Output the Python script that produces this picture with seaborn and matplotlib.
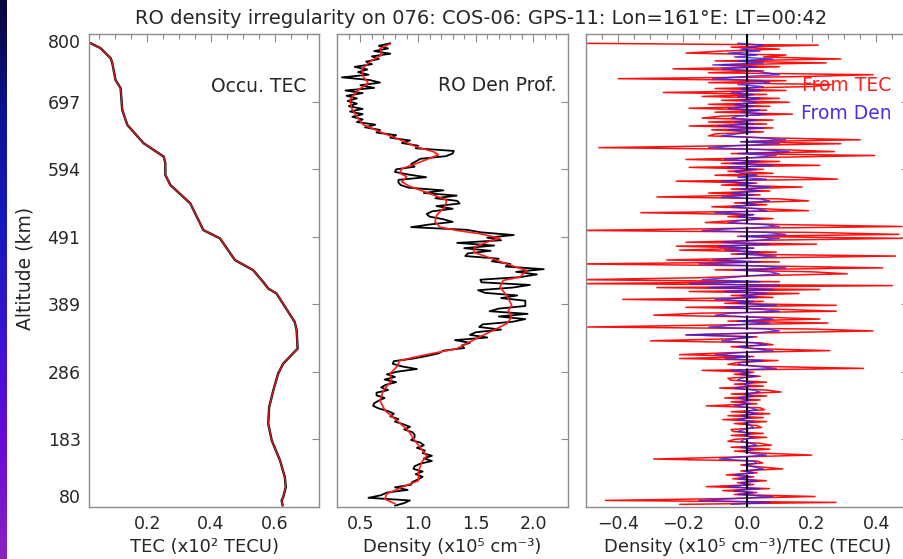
import numpy as np
import pandas as pd
import matplotlib
matplotlib.use("Agg")
import matplotlib.pyplot as plt
from matplotlib.colors import LinearSegmentedColormap
from matplotlib.ticker import MultipleLocator
import seaborn as sns

# ---------------- data ----------------
title_text = "RO density irregularity on 076: COS-06: GPS-11: Lon=161°E: LT=00:42"
alt_ticks = [80, 183, 286, 389, 491, 594, 697, 800]
alt_tick_labels = ["80", "183", "286", "389", "491", "594", "697", "800"]

# Panel 1: occultation TEC (x10^2 TECU) vs altitude (km)
tec_alt = [786, 778.5, 763, 755.6, 730, 717.5, 684.5, 661.6, 633.7, 613.3, 603.2,
           585.4, 570, 542.2, 501.5, 488.9, 455.8, 440.5, 422.7, 412.6, 405,
           361.7, 349, 321, 298.3, 283, 257.6, 232, 206.8, 181.4, 150.9, 125.5,
           110.2, 95, 90, 82.3]
tec_val = [0.023, 0.054, 0.086, 0.091, 0.101, 0.117, 0.122, 0.138, 0.189, 0.252, 0.257,
           0.257, 0.273, 0.335, 0.376, 0.428, 0.475, 0.532, 0.563, 0.579, 0.605,
           0.662, 0.668, 0.671, 0.626, 0.610, 0.595, 0.582, 0.579, 0.590, 0.616, 0.631,
           0.634, 0.626, 0.621, 0.624]

# Panel 2: smooth (red) density profile (x10^5 cm^-3)
den_smooth_alt = [785, 778, 768, 758, 746, 735, 725, 715, 700, 687, 674, 662, 649, 639,
                  628, 621, 616, 611, 603, 595, 588, 583, 575, 568, 557, 547, 537, 524,
                  514, 506, 501, 496, 489, 484, 476, 468, 461, 450, 440, 430, 425, 415,
                  402, 387, 379, 369, 359, 344, 334, 321, 311, 303, 293, 283, 273, 257,
                  242, 227, 212, 196, 181, 171, 158, 148, 133, 120, 110, 100, 92, 85]
den_smooth_val = [0.757, 0.670, 0.684, 0.583, 0.511, 0.525, 0.569, 0.482, 0.410, 0.424,
                  0.468, 0.525, 0.699, 0.843, 0.988, 1.132, 1.176, 1.103, 0.988, 0.858,
                  0.843, 0.901, 0.858, 0.930, 1.103, 1.248, 1.233, 1.161, 1.147, 1.190,
                  1.335, 1.537, 1.710, 1.609, 1.494, 1.479, 1.595, 1.768, 1.942, 1.884,
                  1.739, 1.710, 1.768, 1.812, 1.783, 1.812, 1.768, 1.595, 1.479, 1.335,
                  1.046, 0.843, 0.814, 0.757, 0.771, 0.699, 0.670, 0.713, 0.814, 0.916,
                  0.973, 1.017, 1.075, 1.031, 1.002, 1.002, 0.858, 0.728, 0.713, 0.800]

# Panel 2: raw (black) density profile, sampled every 4 km from 786 km down to 82 km
den_raw_top, den_raw_step = 786, 4
den_raw_val = [
    0.76, 0.66, 0.74, 0.62, 0.76, 0.60, 0.66, 0.55, 0.60, 0.45,
    0.56, 0.48, 0.57, 0.34, 0.58, 0.67, 0.50, 0.62, 0.37, 0.52,
    0.38, 0.47, 0.39, 0.47, 0.40, 0.52, 0.41, 0.52, 0.43, 0.52,
    0.47, 0.63, 0.54, 0.67, 0.64, 0.81, 0.76, 0.93, 0.86, 1.00,
    0.98, 1.31, 1.30, 1.24, 1.02, 0.98, 0.94, 0.97, 0.81, 0.80,
    0.92, 1.07, 0.83, 0.83, 0.85, 0.92, 1.22, 1.05, 1.335, 1.15,
    1.34, 1.36, 1.16, 1.30, 1.12, 1.075, 1.10, 1.22, 1.30, 1.10,
    0.94, 1.42, 1.55, 1.83, 1.60, 1.72, 1.34, 1.66, 1.40, 1.63,
    1.43, 1.41, 1.70, 1.64, 1.80, 1.76, 2.09, 1.85, 2.03, 1.89,
    1.54, 1.55, 1.97, 1.82, 1.52, 1.58, 1.86, 1.72, 1.93, 1.93,
    1.93, 1.70, 1.62, 1.95, 1.70, 1.93, 1.82, 1.56, 1.53, 1.72,
    1.50, 1.45, 1.60, 1.32, 1.45, 1.38, 1.40, 1.22, 1.18, 1.08,
    0.96, 0.79, 0.78, 0.86, 0.99, 0.82, 0.73, 0.80, 0.71, 0.81,
    0.72, 0.68, 0.74, 0.64, 0.64, 0.71, 0.66, 0.62, 0.61, 0.66,
    0.74, 0.79, 0.76, 0.83, 0.80, 0.87, 0.93, 0.88, 0.95, 0.97,
    0.97, 0.94, 1.02, 1.05, 0.99, 1.06, 1.04, 1.12, 1.05, 1.12,
    1.02, 0.97, 0.96, 1.04, 0.98, 1.04, 1.00, 0.95, 0.94, 0.80,
    0.91, 0.73, 0.68, 0.57, 0.93, 0.88, 0.80]

# Panel 3: irregularities, sampled every 3 km from 786 km down to 84 km
irr_top, irr_step = 786, 3
irr_tec = [
    -0.55, 0.22, -0.05, 0.10, -0.08, -0.19, 0.12, 0.05, 0.29, -0.10,
    0.245, -0.08, 0.10, -0.23, 0.05, -0.12, 0.39, 0.15, -0.40, 0.12,
    -0.12, 0.26, 0.20, -0.10, 0.12, -0.26, 0.06, -0.14, 0.10, -0.08,
    0.13, -0.12, 0.07, -0.18, 0.06, -0.10, 0.14, -0.08, -0.14, 0.08,
    -0.12, 0.06, -0.18, 0.08, -0.11, 0.05, -0.10, -0.12, 0.06, 0.35,
    -0.02, 0.29, -0.05, -0.46, 0.10, 0.27, -0.05, 0.395, 0.05, -0.19,
    0.10, -0.08, 0.225, -0.18, 0.05, -0.06, 0.08, -0.10, 0.15, 0.28,
    -0.22, 0.03, -0.08, 0.17, -0.05, 0.07, -0.12, 0.04, -0.28, 0.10,
    0.19, -0.04, 0.06, -0.11, 0.05, 0.19, -0.33, 0.02, -0.06, 0.08,
    -0.04, -0.13, 0.10, 0.48, -0.05, -0.52, 0.20, 0.47, -0.03, 0.48,
    0.05, -0.19, 0.215, -0.22, 0.02, -0.21, 0.09, -0.05, 0.46, 0.02,
    -0.25, 0.10, -0.52, 0.05, 0.42, -0.10, 0.20, 0.31, 0.02, -0.15,
    -0.52, 0.10, -0.52, 0.45, -0.28, 0.225, -0.18, 0.16, -0.05, 0.08,
    -0.386, 0.05, -0.07, 0.276, -0.19, 0.10, 0.276, -0.15, -0.29, 0.05,
    0.225, -0.06, 0.25, -0.10, -0.495, 0.19, 0.39, 0.05, -0.19, 0.03,
    -0.06, -0.30, 0.04, 0.08, -0.05, 0.03, 0.256, -0.05, -0.21, 0.02,
    -0.21, 0.095, -0.03, -0.06, 0.05, 0.36, -0.14, 0.02, -0.04, 0.04,
    -0.06, -0.05, 0.06, -0.04, 0.05, -0.086, 0.06, 0.105, -0.05, 0.06,
    -0.07, 0.04, -0.05, 0.03, -0.127, 0.04, 0.054, -0.05, 0.07, -0.06,
    0.05, -0.076, 0.06, -0.04, 0.03, 0.044, -0.05, -0.045, 0.05, -0.05,
    0.06, -0.04, -0.06, 0.04, 0.075, -0.05, 0.07, -0.04, 0.05, 0.20,
    -0.05, -0.29, 0.03, 0.048, -0.02, 0.04, 0.11, -0.02, 0.03, -0.065,
    0.02, -0.045, 0.059, -0.03, 0.02, -0.127, 0.069, -0.076, 0.03, -0.04,
    0.21, -0.05, -0.44, 0.275, -0.21]
irr_den = [
    -0.03, 0.05, 0.02, -0.02, 0.04, -0.06, 0.03, -0.04, 0.08, -0.03,
    0.05, -0.107, 0.03, -0.08, 0.02, 0.06, 0.10, -0.02, -0.107, 0.04,
    0.07, -0.03, 0.05, -0.02, 0.04, -0.05, 0.02, -0.03, 0.04, -0.02,
    0.03, -0.04, 0.02, -0.06, 0.04, -0.02, 0.06, -0.03, -0.05, 0.03,
    -0.04, 0.02, -0.09, 0.05, -0.06, 0.02, -0.03, -0.08, 0.04, 0.12,
    -0.02, 0.10, -0.04, -0.12, 0.05, 0.13, -0.03, 0.09, 0.02, -0.07,
    0.04, -0.05, 0.08, -0.06, 0.03, -0.04, -0.02, 0.03, -0.03, 0.06,
    -0.08, 0.02, -0.03, 0.07, -0.02, 0.04, -0.05, 0.02, -0.08, 0.04,
    0.07, -0.02, 0.03, -0.05, 0.03, 0.06, -0.10, 0.02, -0.03, 0.04,
    -0.02, -0.06, 0.05, 0.10, -0.03, -0.14, 0.06, 0.12, -0.02, 0.10,
    0.03, -0.08, 0.07, -0.09, 0.02, -0.07, 0.04, -0.03, 0.09, 0.01,
    -0.107, 0.04, -0.15, 0.03, 0.12, -0.04, 0.07, 0.10, 0.01, -0.06,
    -0.14, 0.04, -0.18, 0.10, -0.12, 0.08, -0.07, 0.06, -0.02, 0.03,
    -0.10, 0.02, -0.03, 0.09, -0.07, 0.04, 0.10, -0.05, -0.10, 0.02,
    0.08, -0.03, 0.07, -0.04, -0.12, 0.06, 0.10, 0.02, -0.19, 0.02,
    -0.03, -0.08, 0.02, 0.06, -0.03, 0.02, 0.08, -0.02, -0.10, 0.01,
    -0.07, 0.05, -0.02, -0.03, 0.03, 0.09, -0.05, 0.01, -0.02, 0.03,
    -0.02, -0.03, 0.02, -0.01, 0.01, -0.04, 0.02, 0.04, -0.01, 0.02,
    -0.03, 0.01, -0.02, 0.01, -0.04, 0.01, 0.03, -0.01, 0.03, -0.02,
    0.01, -0.03, 0.02, -0.01, 0.01, 0.02, -0.01, -0.03, 0.01, -0.01,
    0.02, -0.01, -0.02, 0.01, 0.03, -0.02, 0.02, -0.01, 0.01, 0.06,
    -0.03, -0.086, 0.02, 0.03, -0.01, 0.02, 0.05, -0.01, 0.02, -0.04,
    0.01, -0.03, 0.03, -0.02, 0.01, -0.06, 0.04, -0.04, 0.02, -0.03,
    0.08, -0.03, -0.15, 0.07, -0.05]

# ---------------- style ----------------
sns.set_theme(style="white")
plt.rcParams["font.family"] = ["DejaVu Sans"]
plt.rcParams["axes.unicode_minus"] = True

FRAME = "#8c8c8c"
FS = 12.5
LFS = 13

fig = plt.figure(figsize=(9.04, 5.59), dpi=100)
fig.patch.set_facecolor("white")

W, H = 904.0, 559.0
top_px, bot_px = 34.0, 507.0
bottom = (H - bot_px) / H
height = (bot_px - top_px) / H
ax1 = fig.add_axes([89 / W, bottom, 230 / W, height])
ax2 = fig.add_axes([337.3 / W, bottom, 230.7 / W, height])
ax3 = fig.add_axes([586 / W, bottom, 322.5 / W, height])

# left decorative gradient strip
axg = fig.add_axes([0, 0, 6.5 / W, 1])
grad_cmap = LinearSegmentedColormap.from_list(
    "strip", ["#07073a", "#0d1290", "#1519c0", "#3a14d0", "#6a0ad8", "#8a22c0"])
axg.imshow(np.linspace(0, 1, 256).reshape(-1, 1), aspect="auto", cmap=grad_cmap,
           extent=[0, 1, 0, 1])
axg.set_axis_off()

# ---- panel 1 ----
sns.lineplot(x=tec_val, y=tec_alt, sort=False, estimator=None, ax=ax1,
             color="black", lw=1.7)
sns.lineplot(x=tec_val, y=tec_alt, sort=False, estimator=None, ax=ax1,
             color="#d42020", lw=1.0)

# ---- panel 2 ----
den_raw_alt = [den_raw_top - den_raw_step * i for i in range(len(den_raw_val))]
sns.lineplot(x=den_raw_val, y=den_raw_alt, sort=False, estimator=None, ax=ax2,
             color="black", lw=1.3)
sns.lineplot(x=den_smooth_val, y=den_smooth_alt, sort=False, estimator=None, ax=ax2,
             color="#ff1a1a", lw=1.2)

# ---- panel 3 ----
irr_alt_tec = [irr_top - irr_step * i for i in range(len(irr_tec))]
irr_alt_den = [irr_top - irr_step * i for i in range(len(irr_den))]
df_irr = pd.concat([
    pd.DataFrame({"alt": irr_alt_tec, "val": irr_tec, "src": "From TEC"}),
    pd.DataFrame({"alt": irr_alt_den, "val": irr_den, "src": "From Den"}),
])
sns.lineplot(data=df_irr[df_irr.src == "From TEC"], x="val", y="alt", sort=False,
             estimator=None, ax=ax3, color="#ff1010", lw=1.1, zorder=2)
sns.lineplot(data=df_irr[df_irr.src == "From Den"], x="val", y="alt", sort=False,
             estimator=None, ax=ax3, color="#3a1ee0", lw=1.0, alpha=0.85, zorder=3)
ax3.axvline(0, color="black", lw=1.5, ls=(0, (7, 1.5)), zorder=4)

# ---- axes formatting ----
xcfg = [
    (ax1, (0.018, 0.738), [0.2, 0.4, 0.6], ["0.2", "0.4", "0.6"], 0.05,
     "TEC (x10\u00b2 TECU)"),
    (ax2, (0.3, 2.3), [0.5, 1.0, 1.5, 2.0], ["0.5", "1.0", "1.5", "2.0"], 0.1,
     "Density (x10\u2075 cm\u207b\u00b3)"),
    (ax3, (-0.5, 0.5), [-0.4, -0.2, 0.0, 0.2, 0.4],
     ["\u22120.4", "\u22120.2", "0.0", "0.2", "0.4"], 0.05,
     "Density (x10\u2075 cm\u207b\u00b3)/TEC (TECU)"),
]
for ax, xl, ticks, labels, minor, xlabel in xcfg:
    ax.set_xlim(*xl)
    ax.set_ylim(80, 800)
    ax.set_xticks(ticks)
    ax.set_xticklabels(labels, fontsize=FS)
    ax.xaxis.set_minor_locator(MultipleLocator(minor))
    ax.set_yticks(alt_ticks)
    ax.set_xlabel(xlabel, fontsize=LFS, va="center")
    ax.xaxis.set_label_coords(0.5, (bot_px - 547) / (bot_px - top_px))
    ax.set_ylabel("")
    ax.tick_params(axis="both", which="both", direction="in", top=True, right=True,
                   color=FRAME, width=0.8)
    ax.tick_params(axis="x", which="major", length=6, pad=6)
    ax.tick_params(axis="x", which="minor", length=3.5)
    ax.tick_params(axis="y", which="major", length=5)
    for s in ax.spines.values():
        s.set_color(FRAME)
        s.set_linewidth(1.0)
    ax.set_facecolor("white")
    ax.grid(False)
    if ax.get_legend() is not None:
        ax.get_legend().remove()

ax1.set_yticklabels(alt_tick_labels, fontsize=FS)
ax1.tick_params(axis="y", pad=6)
for ax in (ax2, ax3):
    ax.set_yticklabels([])
for lab, v in zip(ax1.get_yticklabels(), alt_ticks):
    if v == 800:
        lab.set_verticalalignment("top")
    elif v == 80:
        lab.set_verticalalignment("bottom")

fig.text(25 / W, 1 - 268 / H, "Altitude (km)", rotation=90, ha="center", va="center",
         fontsize=13.5)

# panel annotations
ax1.text(0.943, 0.889, "Occu. TEC", transform=ax1.transAxes, ha="right", va="center",
         fontsize=13.5)
ax2.text(0.948, 0.892, "RO Den Prof.", transform=ax2.transAxes, ha="right", va="center",
         fontsize=13.5)
ax3.text(0.947, 0.892, "From TEC", transform=ax3.transAxes, ha="right", va="center",
         fontsize=13.5, color="#ff2020")
ax3.text(0.947, 0.832, "From Den", transform=ax3.transAxes, ha="right", va="center",
         fontsize=13.5, color="#4a30e0")

fig.text(481 / W, 1 - 19 / H, title_text, ha="center", va="center", fontsize=14)

fig.savefig("out.png", dpi=100, facecolor="white")
